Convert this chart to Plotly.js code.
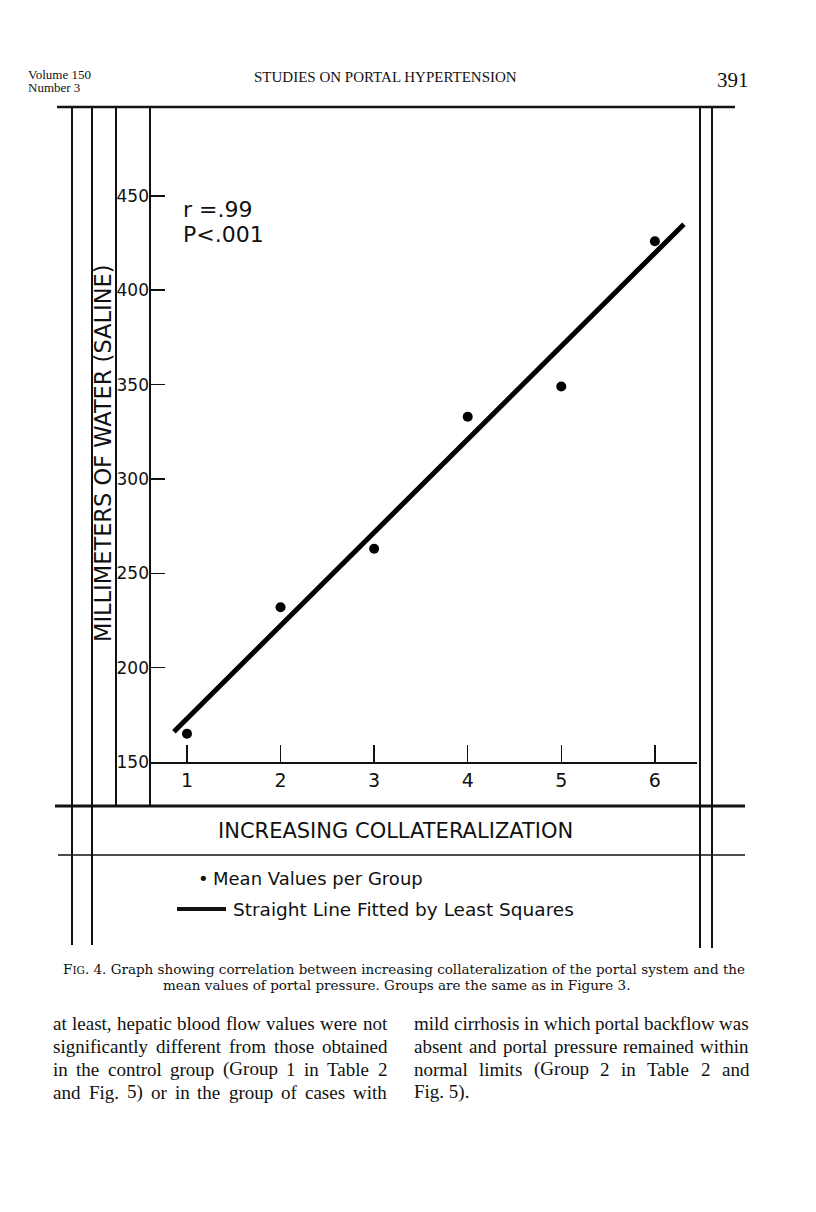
<!DOCTYPE html>
<html>
<head>
<meta charset="utf-8">
<script src="https://cdn.plot.ly/plotly-3.0.1.min.js"></script>
<style>
  body { margin: 0; background: #fff; }
  #chart { width: 816px; height: 1212px; }
</style>
</head>
<body>
<div id="chart"></div>
<script>
// group number vs mean portal pressure (mm of water)
const groups = [1, 2, 3, 4, 5, 6];
const meanPressure = [165, 232, 263, 333, 349, 426];
// ends of the least squares line as drawn
const fitX = [0.86, 6.31];
const fitY = [166, 435];
const yTicks = [150, 200, 250, 300, 350, 400, 450];

const W = 816, H = 1212;
const px = x => x / W;
const py = y => 1 - y / H;

const sans = "'DejaVu Sans', sans-serif";
const serif = "'Liberation Serif', serif";
const capSerif = "'DejaVu Serif', serif";

const points = {
  x: groups, y: meanPressure,
  type: 'scatter', mode: 'markers',
  marker: { color: '#000', size: 10 },
  cliponaxis: false, hoverinfo: 'skip'
};
const fit = {
  x: fitX, y: fitY,
  type: 'scatter', mode: 'lines',
  line: { color: '#000', width: 5 },
  cliponaxis: false, hoverinfo: 'skip'
};

function vline(x, y0, y1, w) {
  return { type: 'line', xref: 'paper', yref: 'paper', x0: px(x), x1: px(x), y0: py(y0), y1: py(y1),
           line: { color: '#111', width: w || 2 } };
}
function hline(y, x0, x1, w) {
  return { type: 'line', xref: 'paper', yref: 'paper', x0: px(x0), x1: px(x1), y0: py(y), y1: py(y),
           line: { color: '#111', width: w || 2 } };
}
function txt(x, y, text, size, family, anchor, extra) {
  return Object.assign({ xref: 'paper', yref: 'paper', x: px(x), y: py(y), text: text, showarrow: false,
           xanchor: anchor || 'left', yanchor: 'middle', borderpad: 0,
           font: { size: size, family: family, color: '#111' } }, extra || {});
}

// body text set justified between x0 and x1, word by word
const ctx = document.createElement('canvas').getContext('2d');
function bodyLine(str, x0, x1, y, just) {
  const size = 19;
  if (!just) return [txt(x0, y, str, size, serif)];
  ctx.font = size + "px 'Liberation Serif'";
  const words = str.split(' ');
  const widths = words.map(w => ctx.measureText(w).width);
  const gap = (x1 - x0 - widths.reduce((a, b) => a + b, 0)) / (words.length - 1);
  const out = [];
  let x = x0;
  words.forEach((w, i) => {
    out.push(txt(x, y, w, size, serif));
    x += widths[i] + gap;
  });
  return out;
}

const leftCol = [
  'at least, hepatic blood flow values were not',
  'significantly different from those obtained',
  'in the control group (Group 1 in Table 2',
  'and Fig. 5) or in the group of cases with'
];
const rightCol = [
  'mild cirrhosis in which portal backflow was',
  'absent and portal pressure remained within',
  'normal limits (Group 2 in Table 2 and',
  'Fig. 5).'
];
const lineY = [1023, 1046, 1069, 1092];

const shapes = [
  hline(107, 57, 735, 2.5),
  vline(72, 107, 945), vline(92, 107, 945),
  vline(116, 107, 806), vline(150, 107, 806),
  vline(700, 107, 948), vline(712, 107, 948),
  hline(806, 55, 745, 3),
  hline(855, 58, 745, 1.5),
  // legend line sample
  hline(909, 177, 226, 4)
];

let annotations = [
  txt(27, 74, 'Volume 150', 13, serif),
  txt(27, 88, 'Number 3', 13, serif),
  txt(385, 77, 'STUDIES ON PORTAL HYPERTENSION', 15, serif, 'center'),
  txt(750, 80, '391', 21, serif, 'right'),
  txt(182, 209, 'r =.99', 22, sans),
  txt(182, 235, 'P&lt;.001', 22, sans),
  txt(103, 453, 'MILLIMETERS OF WATER (SALINE)', 22.5, sans, 'center', { textangle: -90 }),
  txt(395, 831, 'INCREASING COLLATERALIZATION', 21, sans, 'center'),
  txt(197, 878, '•', 18, sans),
  txt(212, 878, 'Mean Values per Group', 18, sans),
  txt(232, 909, 'Straight Line Fitted by Least Squares', 18.5, sans),
  txt(404, 969, "F<span style='font-size:10.5px'>IG</span>. 4. Graph showing correlation between increasing collateralization of the portal system and the", 13.5, capSerif, 'center'),
  txt(396, 985, 'mean values of portal pressure. Groups are the same as in Figure 3.', 13.5, capSerif, 'center')
];
leftCol.forEach((s, i) => { annotations = annotations.concat(bodyLine(s, 52, 386, lineY[i], true)); });
rightCol.forEach((s, i) => { annotations = annotations.concat(bodyLine(s, 413, 748, lineY[i], i < 3)); });

const layout = {
  width: W, height: H,
  margin: { l: 0, r: 0, t: 0, b: 0 },
  paper_bgcolor: '#fff', plot_bgcolor: 'rgba(0,0,0,0)',
  showlegend: false,
  font: { family: sans, color: '#111' },
  xaxis: {
    domain: [px(150), px(697)],
    range: [0.605, 6.45],
    tickvals: groups,
    ticks: 'inside', ticklen: 17, tickwidth: 1.5, tickcolor: '#111',
    showline: true, linecolor: '#111', linewidth: 2,
    showgrid: false, zeroline: false,
    tickfont: { size: 19, family: sans, color: '#111' }
  },
  yaxis: {
    domain: [py(762), py(107)],
    range: [150, 497.1],
    tickvals: yTicks,
    ticks: 'inside', ticklen: 15, tickwidth: 1.5, tickcolor: '#111',
    showline: false, showgrid: false, zeroline: false,
    ticklabelstandoff: 0,
    tickfont: { size: 17, family: sans, color: '#111' }
  },
  shapes: shapes,
  annotations: annotations
};

Plotly.newPlot('chart', [fit, points], layout, { staticPlot: true });
</script>
</body>
</html>
